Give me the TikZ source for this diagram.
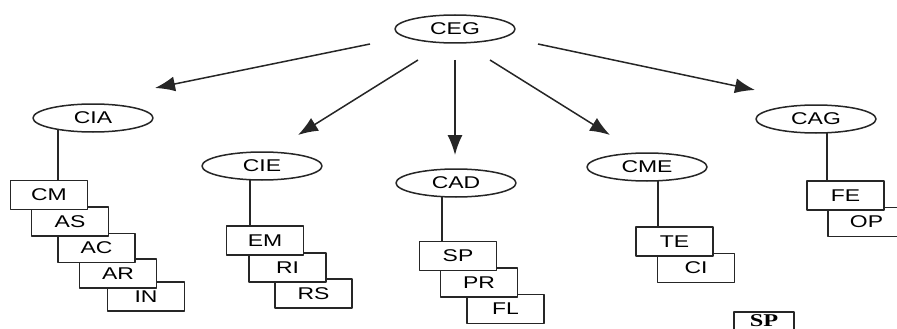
\documentclass[tikz,border=0pt]{standalone}
\usepackage{fontspec}
\setmainfont{Liberation Sans}[FakeStretch=1.35]
\newfontfamily\serifbox{Liberation Serif}[FakeStretch=1.35]
\usetikzlibrary{arrows.meta,shapes.geometric,backgrounds}
\begin{document}
\begin{tikzpicture}[x=1pt,y=-1pt,line join=round,font=\fontsize{17}{18}\selectfont,
	oval/.style={ellipse,draw=black!85,fill=white,line width=1.5pt,minimum width=120pt,minimum height=28pt,inner sep=0pt},
	box/.style={draw=black!85,fill=white,line width=1.5pt,minimum width=77pt,minimum height=29pt,inner sep=0pt},
	link/.style={draw=black!85,line width=1.5pt},
	arr/.style={link,-{Latex[length=20pt,width=15pt]}}]
	\clip (0,0) rectangle (897,329);
	\node[oval] (ceg) at (455,29) {CEG};
	\node[oval] (cia) at (93,118) {CIA};
	\node[oval] (cie) at (262,166) {CIE};
	\node[oval] (cad) at (456,183) {CAD};
	\node[oval] (cme) at (647,167) {CME};
	\node[oval] (cag) at (816,119) {CAG};
	% CIA
	\node[box] (in) at (146,296.5) {IN};
	\node[box] (ar) at (118,273.5) {AR};
	\node[box] (ac) at (96.5,248) {AC};
	\node[box] (as) at (70,221.5) {AS};
	\node[box] (cm) at (49,195) {CM};
	% CIE
	\node[box] (rs) at (313.5,293.5) {RS};
	\node[box] (ri) at (287.5,267.5) {RI};
	\node[box] (em) at (265,240.5) {EM};
	% CAD
	\node[box] (fl) at (505.5,309) {FL};
	\node[box] (pr) at (479,282.5) {PR};
	\node[box] (sp) at (458,256) {SP};
	% CME
	\node[box] (ci) at (696,268) {CI};
	\node[box] (te) at (674.5,241.5) {TE};
	% CAG
	\node[box] (op) at (866.5,222) {OP};
	\node[box] (fe) at (845.5,195.5) {FE};
	\node[box,anchor=north,minimum width=60pt,minimum height=18pt,font=\serifbox\bfseries\fontsize{18}{19}\selectfont] (spx) at (764,311) {SP};
	\begin{scope}[on background layer]
	\draw[link] (cia.center -| 58,0) -- (cm.north -| 58,0);
	\draw[link] (cie.center -| 250,0) -- (em.north -| 250,0);
	\draw[link] (cad.center -| 442,0) -- (sp.north -| 442,0);
	\draw[link] (cme.center -| 658,0) -- (te.north -| 658,0);
	\draw[link] (cag.center -| 827,0) -- (fe.north -| 827,0);
	\end{scope}
	\coordinate (a1) at (370,44); \coordinate (b1) at (155,88);
	\coordinate (a2) at (418,60); \coordinate (b2) at (298,135);
	\coordinate (a3) at (455,60); \coordinate (b3) at (455,155);
	\coordinate (a4) at (490,60); \coordinate (b4) at (610,135);
	\coordinate (a5) at (538,44); \coordinate (b5) at (755,90);
	\foreach \i in {1,...,5} \draw[arr] (a\i) -- (b\i);
\end{tikzpicture}
\end{document}
